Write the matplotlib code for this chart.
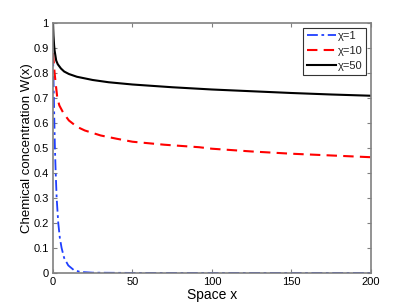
import numpy as np
import matplotlib.pyplot as plt

plt.rcParams['font.family'] = ['Liberation Sans', 'DejaVu Sans']

# values
x_chi1 = [0, 0.4, 0.8, 1.2, 1.7, 2.3, 3.3, 4.3, 5.4, 7, 9.6, 13, 17, 25, 50, 100, 150, 200]
w_chi1 = [0.87, 0.75, 0.62, 0.5, 0.4, 0.3, 0.2, 0.14, 0.1, 0.06, 0.03, 0.012, 0.004, 0.001, 0, 0, 0, 0]

x_chi10 = [0, 0.5, 1, 2, 2.7, 4, 6.5, 10, 15, 20, 30, 40, 50, 70, 92, 100, 125, 150, 175, 200]
w_chi10 = [0.88, 0.84, 0.8, 0.74, 0.70, 0.67, 0.64, 0.61, 0.585, 0.57, 0.55, 0.537, 0.525, 0.513, 0.503, 0.497, 0.486, 0.477, 0.47, 0.463]

x_chi50 = [0, 0.3, 0.7, 1, 2, 3, 5, 7, 10, 15, 25, 35, 50, 75, 100, 125, 150, 175, 200]
w_chi50 = [1.0, 0.95, 0.91, 0.89, 0.85, 0.835, 0.818, 0.806, 0.796, 0.785, 0.772, 0.763, 0.754, 0.743, 0.734, 0.727, 0.72, 0.714, 0.709]

labels = ['\u03c7=1', '\u03c7=10', '\u03c7=50']

fig = plt.figure(figsize=(4.09, 3.07), dpi=100)
ax = fig.add_axes([0.1296, 0.111, 0.7774, 0.814])

ax.plot(x_chi1, w_chi1, color='#1f3fff', linestyle=(0, (6, 2, 1.5, 2)), linewidth=1.3, label=labels[0])
ax.plot(x_chi10, w_chi10, color='red', linestyle=(0, (5, 3)), linewidth=1.5, label=labels[1])
ax.plot(x_chi50, w_chi50, color='black', linestyle='-', linewidth=1.5, label=labels[2])

ax.set_xlim(0, 200)
ax.set_ylim(0, 1)
ax.set_xticks([0, 50, 100, 150, 200])
ax.set_yticks(np.round(np.arange(0, 1.01, 0.1), 1))
ax.set_yticklabels(['0', '0.1', '0.2', '0.3', '0.4', '0.5', '0.6', '0.7', '0.8', '0.9', '1'])
ax.tick_params(direction='in', top=True, right=True, labelsize=8, length=3, color='#808080', pad=3)
for s in ax.spines.values():
    s.set_color('#808080')
    s.set_linewidth(1.2)

ax.set_xlabel('Space x', fontsize=10, labelpad=1)
ax.set_ylabel('Chemical concentration W(x)', fontsize=9.5, labelpad=0)

leg = ax.legend(loc='upper right', fontsize=8, fancybox=False, framealpha=1,
                edgecolor='#333333', borderpad=0.3, labelspacing=0.45, handlelength=2.6,
                handletextpad=0.2, borderaxespad=0.45)
leg.get_frame().set_linewidth(0.8)
for t in leg.get_texts():
    t.set_color('#222222')

fig.savefig('out.png', dpi=100)
